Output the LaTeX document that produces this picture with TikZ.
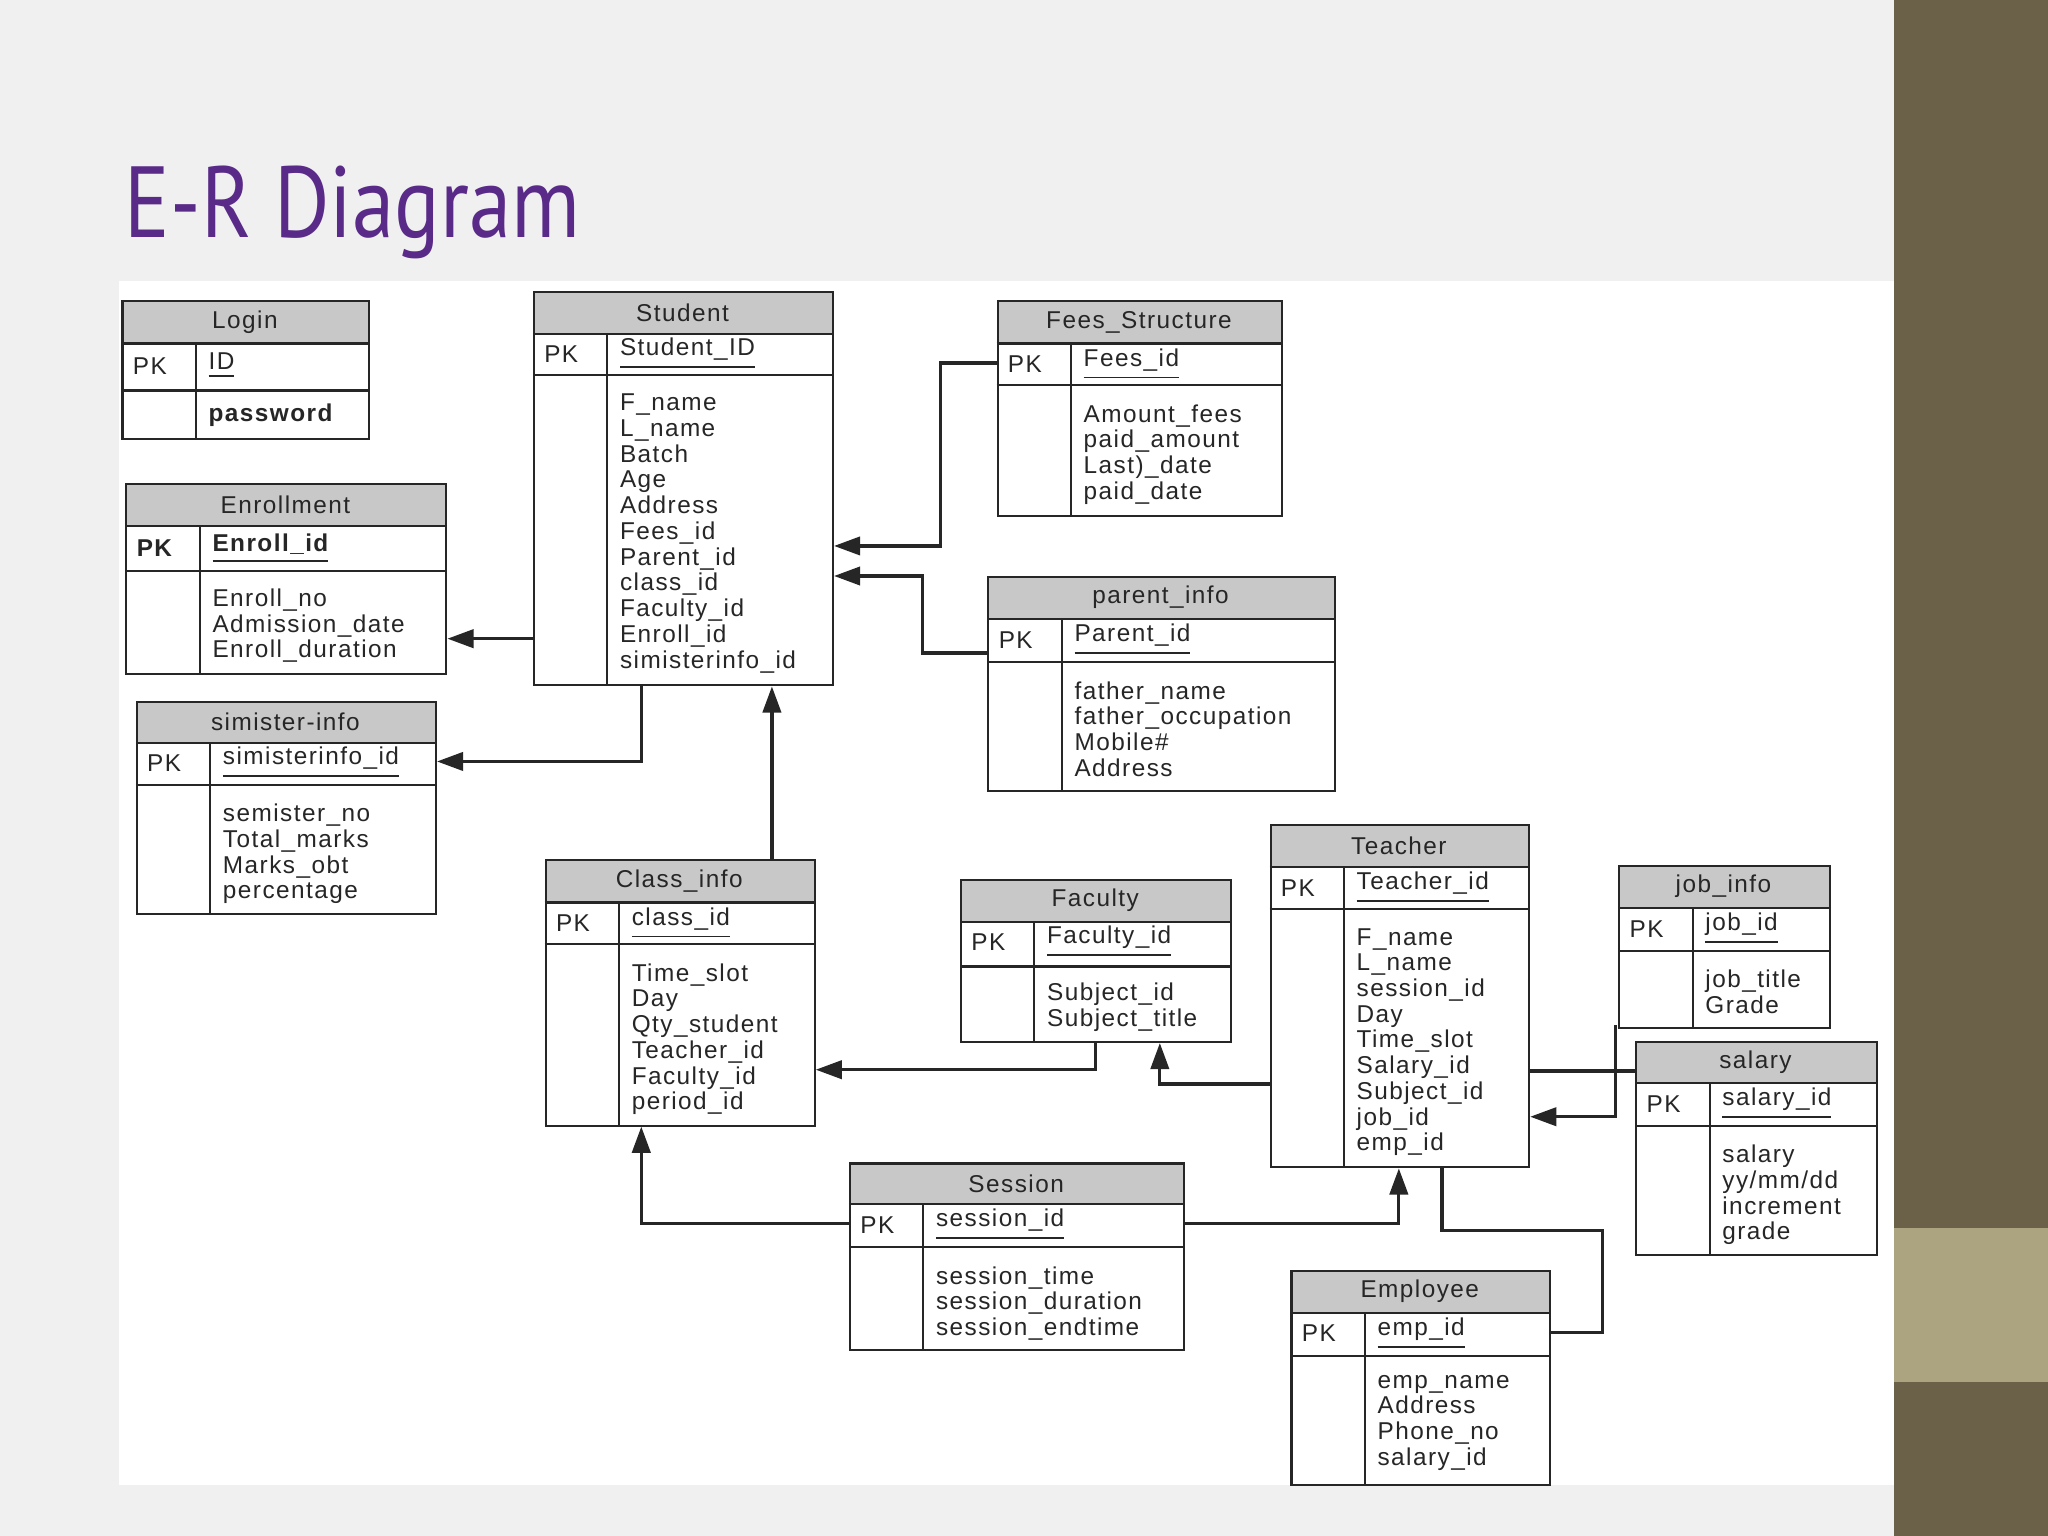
\documentclass[tikz,border=0pt]{standalone}
\usepackage{fontspec}
\setmainfont{Liberation Sans}[LetterSpace=6]
\newfontfamily\titlefont{PT Sans}
\usetikzlibrary{arrows.meta}
\definecolor{hdr}{HTML}{C8C8C8}
\definecolor{olive}{HTML}{6B6048}
\definecolor{tan}{HTML}{ACA481}
\definecolor{ttl}{HTML}{5A2A88}
\definecolor{ink}{HTML}{262626}
\tikzset{
 tb/.style={draw=ink,line width=0.45pt},
 txt/.style={font=\fontsize{5.3}{5.6}\selectfont,text=ink,inner sep=0pt},
 body/.style={txt,anchor=north west,align=left},
 con/.style={draw=ink,line width=0.7pt},
 arr/.style={con,-{Triangle[length=0.2cm,width=0.14cm]}}
}
% name, x1, x2, ytop, yhdr, ypk, ybot, xdiv, title
\newcommand\ertab[9]{%
 \fill[hdr] (#2,#4) rectangle (#3,#5);
 \node[tb,minimum width=#3*0.01cm-#2*0.01cm,minimum height=#7*0.01cm-#4*0.01cm,anchor=north west,inner sep=0pt] (#1) at (#2,#4) {};
 \draw[tb] (#2,#5) -- (#3,#5) (#2,#6) -- (#3,#6) (#8,#5) -- (#8,#7);
 \node[txt] (#1-t) at ({(#2+#3)/2},{(#4+#5)/2}) {#9};
}
\newcommand\erpk[5]{% name x1 xdiv ycenter text
 \node[txt,anchor=west] (#1-pk) at (#2+8,#4) {PK};
 \node[txt,anchor=west] (#1-k) at (#3+9,#4) {#5};
}
\begin{document}
\begin{tikzpicture}[x=0.01cm,y=-0.01cm]
\fill[gray!12] (0,0) rectangle (1568,1176);
\fill[white] (91,215) rectangle (1450,1137);
\fill[olive] (1450,0) rectangle (1568,1176);
\fill[tan] (1450,940) rectangle (1568,1058);
\node[anchor=base west,inner sep=0pt,text=ttl,font=\titlefont\fontsize{22}{22}\selectfont] (title) at (95,182) {\scalebox{0.84}[1]{E-R Diagram}};

\ertab{login}{93}{282}{230}{263}{299}{335}{150}{Login}
\erpk{login}{93}{150}{280}{\underline{ID}}
\node[txt,anchor=west] (login-b) at (159,318) {\textbf{password}};

\ertab{stu}{408}{637}{223}{256}{287}{524}{465}{Student}
\erpk{stu}{408}{465}{271}{\underline{Student\_ID}}
\node[body] (stu-b) at (474,301) {F\_name\\L\_name\\Batch\\Age\\Address\\Fees\_id\\Parent\_id\\class\_id\\Faculty\_id\\Enroll\_id\\simisterinfo\_id};

\ertab{enr}{96}{341}{370}{403}{437}{515}{153}{Enrollment}
\node[txt,anchor=west] (enr-pk) at (104,420) {\textbf{PK}};
\node[txt,anchor=west] (enr-k) at (162,420) {\textbf{\underline{Enroll\_id}}};
\node[body] (enr-b) at (162,450) {Enroll\_no\\Admission\_date\\Enroll\_duration};

\ertab{sim}{104}{333}{537}{569}{601}{699}{161}{simister-info}
\erpk{sim}{104}{161}{584}{\underline{simisterinfo\_id}}
\node[body] (sim-b) at (170,615) {semister\_no\\Total\_marks\\Marks\_obt\\percentage};

\ertab{fee}{763}{981}{230}{263}{295}{394}{820}{Fees\_Structure}
\erpk{fee}{763}{820}{279}{\underline{Fees\_id}}
\node[body] (fee-b) at (829,309) {Amount\_fees\\paid\_amount\\Last)\_date\\paid\_date};

\ertab{par}{756}{1021}{441}{474}{507}{605}{813}{parent\_info}
\erpk{par}{756}{813}{490}{\underline{Parent\_id}}
\node[body] (par-b) at (822,521) {father\_name\\father\_occupation\\Mobile\#\\Address};

\ertab{cls}{417}{623}{658}{691}{723}{861}{474}{Class\_info}
\erpk{cls}{417}{474}{707}{\underline{class\_id}}
\node[body] (cls-b) at (483,737) {Time\_slot\\Day\\Qty\_student\\Teacher\_id\\Faculty\_id\\period\_id};

\ertab{fac}{735}{942}{673}{706}{740}{797}{792}{Faculty}
\erpk{fac}{735}{792}{721}{\underline{Faculty\_id}}
\node[body] (fac-b) at (801,752) {Subject\_id\\Subject\_title};

\ertab{tch}{972}{1170}{631}{664}{696}{893}{1029}{Teacher}
\erpk{tch}{972}{1029}{680}{\underline{Teacher\_id}}
\node[body] (tch-b) at (1038,710) {F\_name\\L\_name\\session\_id\\Day\\Time\_slot\\Salary\_id\\Subject\_id\\job\_id\\emp\_id};

\ertab{job}{1239}{1400}{662}{695}{728}{786}{1296}{job\_info}
\erpk{job}{1239}{1296}{711}{\underline{job\_id}}
\node[body] (job-b) at (1305,742) {job\_title\\Grade};

\ertab{sal}{1252}{1436}{797}{829}{862}{960}{1309}{salary}
\erpk{sal}{1252}{1309}{845}{\underline{salary\_id}}
\node[body] (sal-b) at (1318,876) {salary\\yy/mm/dd\\increment\\grade};

\ertab{ses}{650}{906}{890}{922}{955}{1033}{707}{Session}
\erpk{ses}{650}{707}{938}{\underline{session\_id}}
\node[body] (ses-b) at (716,969) {session\_time\\session\_duration\\session\_endtime};

\ertab{emp}{988}{1186}{972}{1005}{1038}{1136}{1045}{Employee}
\erpk{emp}{988}{1045}{1021}{\underline{emp\_id}}
\node[body] (emp-b) at (1054,1052) {emp\_name\\Address\\Phone\_no\\salary\_id};

% connectors
\draw[arr] (fee.west |- 0,278) -| (720,418) -- (stu.east |- 0,418);
\draw[arr] (par.west |- 0,500) -| (706,441) -- (stu.east |- 0,441);
\draw[arr] (stu.west |- 0,489) -- (enr.east |- 0,489);
\draw[arr] (491,524) |- (sim.east |- 0,583);
\draw[arr] (cls.north -| 591,0) -- (stu.south -| 591,0);
\draw[arr] (fac.south -| 839,0) |- (cls.east |- 0,819);
\draw[arr] (tch.west |- 0,830) -| (fac.south -| 888,0);
\draw[arr] (ses.west |- 0,937) -| (cls.south -| 491,0);
\draw[arr] (ses.east |- 0,937) -| (tch.south -| 1071,0);
\draw[con] (tch.south -| 1104,0) |- (1227,942) |- (emp.east |- 0,1020);
\draw[arr] (1237,785) |- (tch.east |- 0,855);
\draw[con] (sal.west |- 0,820) -- (tch.east |- 0,820);
\end{tikzpicture}
\end{document}
